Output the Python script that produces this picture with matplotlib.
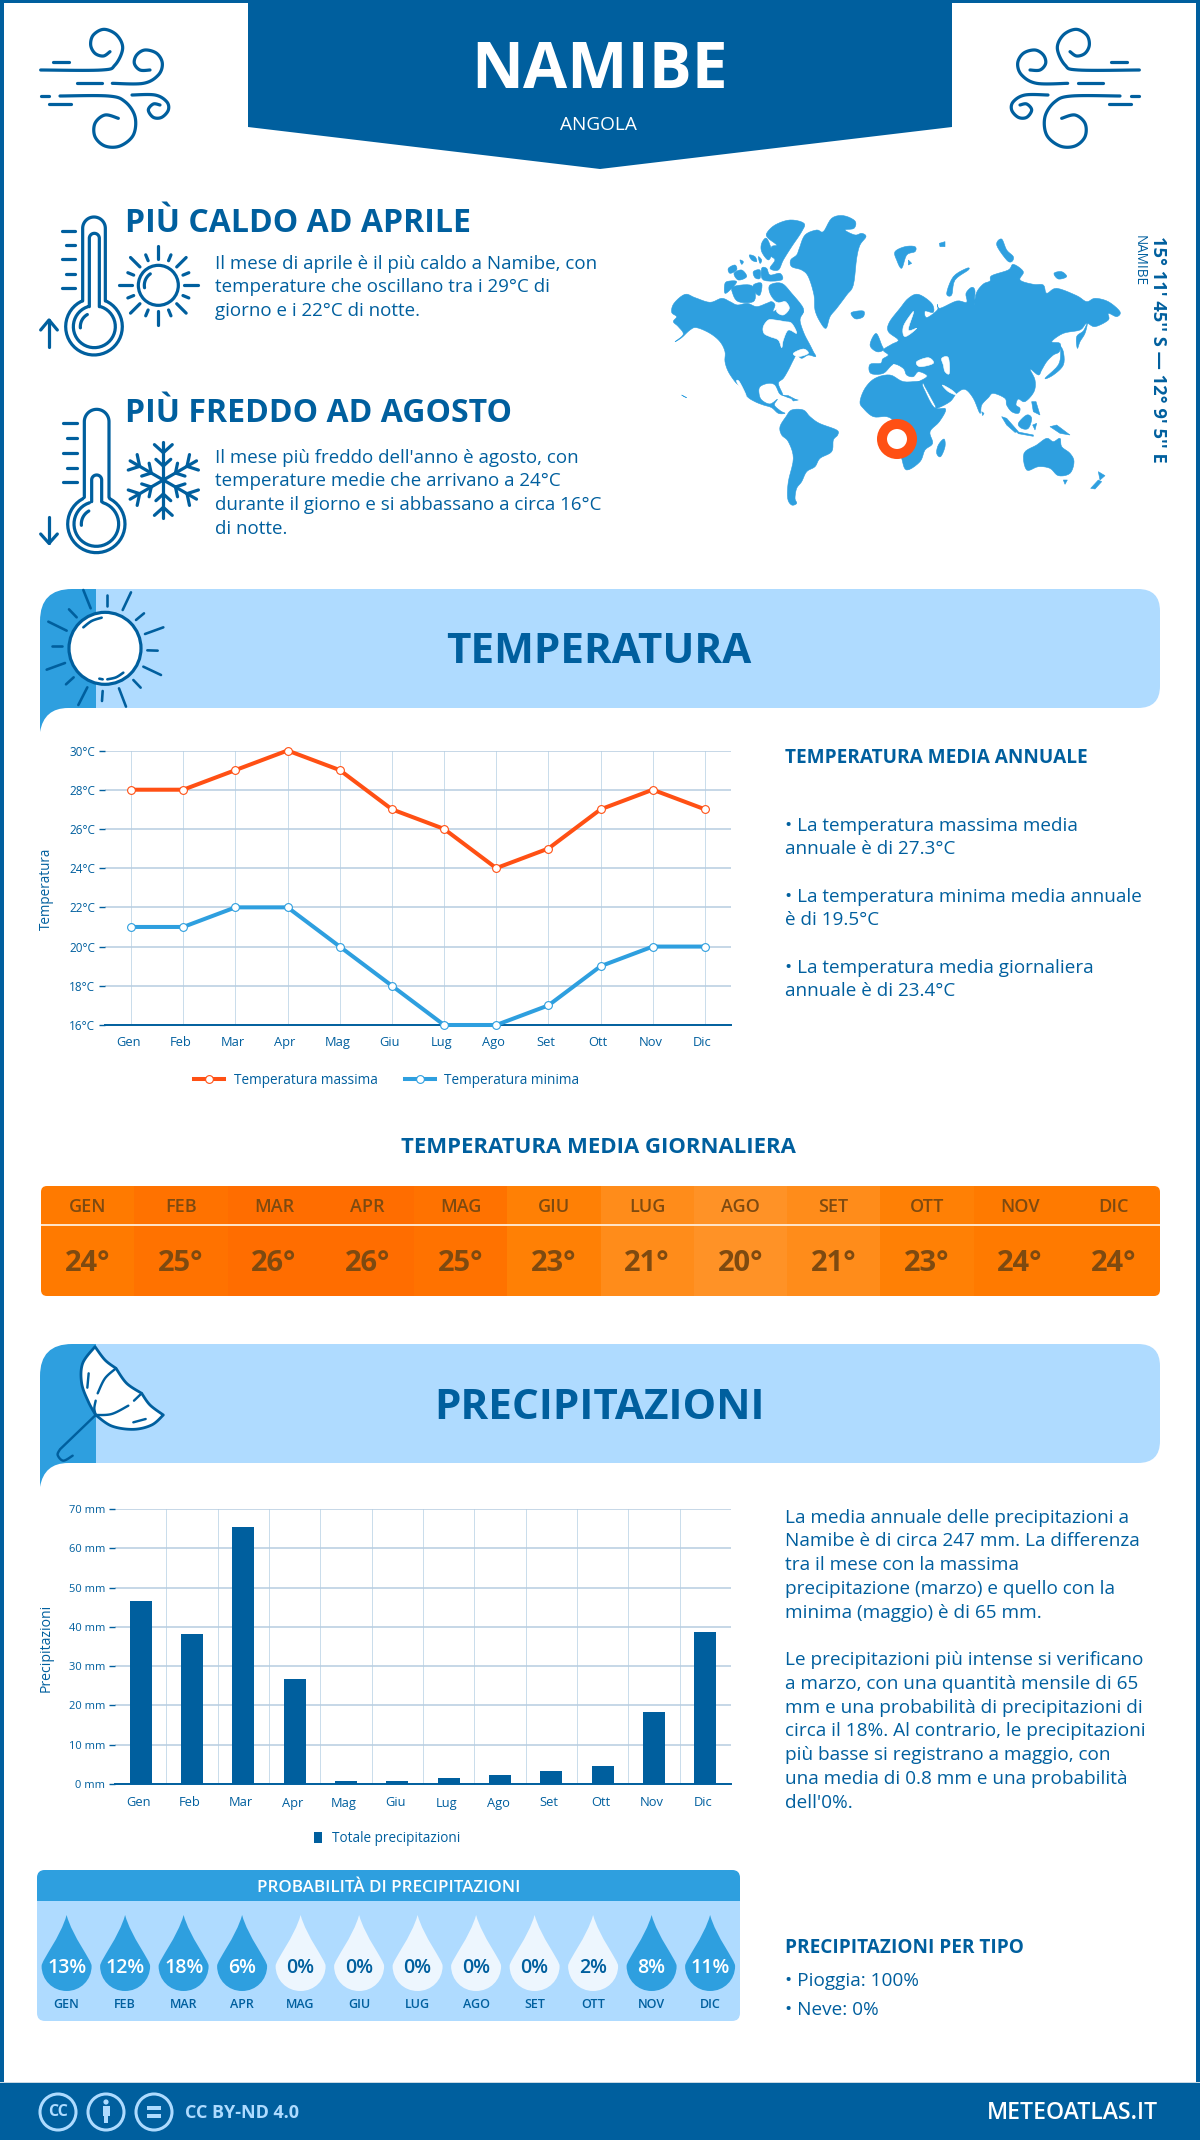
"""Namibe climate infographic, drawn on one pixel-sized canvas with two chart axes."""
import matplotlib
matplotlib.use("Agg")
import matplotlib.pyplot as plt
import numpy as np
from matplotlib.patches import Circle, FancyBboxPatch, PathPatch, Polygon, Rectangle
from matplotlib.path import Path
from matplotlib.transforms import ScaledTranslation

plt.rcParams["font.family"] = ["Open Sans", "DejaVu Sans"]

# ─── Data ────────────────────────────────────────────────────────────────
months = ["Gen", "Feb", "Mar", "Apr", "Mag", "Giu", "Lug", "Ago", "Set", "Ott", "Nov", "Dic"]
temp_max = [28, 28, 29, 30, 29, 27, 26, 24, 25, 27, 28, 27]
temp_min = [21, 21, 22, 22, 20, 18, 16, 16, 17, 19, 20, 20]
temp_avg = [24, 25, 26, 26, 25, 23, 21, 20, 21, 23, 24, 24]
rain_mm = [46.7, 38.3, 65.5, 26.8, 0.8, 0.8, 1.6, 2.4, 3.2, 4.7, 18.4, 38.8]
rain_prob = [13, 12, 18, 6, 0, 0, 0, 0, 0, 2, 8, 11]
temp_ticks = [16, 18, 20, 22, 24, 26, 28, 30]
rain_ticks = [0, 10, 20, 30, 40, 50, 60, 70]

hot_text = ["Il mese di aprile è il più caldo a Namibe, con",
            "temperature che oscillano tra i 29°C di",
            "giorno e i 22°C di notte."]
cold_text = ["Il mese più freddo dell'anno è agosto, con",
             "temperature medie che arrivano a 24°C",
             "durante il giorno e si abbassano a circa 16°C",
             "di notte."]
annual_text = [("• La temperatura massima media", 825), ("annuale è di 27.3°C", 848),
               ("• La temperatura minima media annuale", 896), ("è di 19.5°C", 919),
               ("• La temperatura media giornaliera", 967), ("annuale è di 23.4°C", 990)]
rain_text = [("La media annuale delle precipitazioni a", 1517),
             ("Namibe è di circa 247 mm. La differenza", 1540),
             ("tra il mese con la massima", 1564),
             ("precipitazione (marzo) e quello con la", 1588),
             ("minima (maggio) è di 65 mm.", 1612),
             ("Le precipitazioni più intense si verificano", 1659),
             ("a marzo, con una quantità mensile di 65", 1683),
             ("mm e una probabilità di precipitazioni di", 1707),
             ("circa il 18%. Al contrario, le precipitazioni", 1730),
             ("più basse si registrano a maggio, con", 1754),
             ("una media di 0.8 mm e una probabilità", 1778),
             ("dell'0%.", 1802)]

DARK = "#005F9E"
MID = "#2E9FDF"
LIGHT = "#AFDBFF"
PALE = "#EDF6FE"
ORANGE = "#FF5014"
FOOT = "#AEDBFF"
strip_colors = {26: "#FF6D00", 25: "#FF7200", 24: "#FF7A00", 23: "#FF8005", 21: "#FF8C1A", 20: "#FF9226"}

W, H = 1200, 2140
fig = plt.figure(figsize=(W / 100, H / 100), dpi=100)
ax = fig.add_axes([0, 0, 1, 1])
ax.set_xlim(0, W)
ax.set_ylim(H, 0)
ax.axis("off")


def px_axes(x0, y0, x1, y1):
    return fig.add_axes([x0 / W, 1 - y1 / H, (x1 - x0) / W, (y1 - y0) / H])


def text(x, y, s, size, color=DARK, weight="normal", ha="left", **kw):
    # va="center" sits a little high for capitals, push it back down
    dy = 0
    if "rotation" not in kw:
        dy = 0.09 * size - (1 if size < 25 else 0)
    ax.text(x, y + dy, s, fontsize=size * 0.72, color=color, fontweight=weight, ha=ha, va="center", **kw)


def smooth(points, n=12, closed=False):
    # Catmull-Rom through the given points
    pts = np.array(points, dtype=float)
    if closed:
        pts = np.vstack([pts[-1], pts, pts[0], pts[1]])
    else:
        pts = np.vstack([pts[0], pts, pts[-1]])
    out = []
    for i in range(1, len(pts) - 2):
        p0, p1, p2, p3 = pts[i - 1], pts[i], pts[i + 1], pts[i + 2]
        for t in np.linspace(0, 1, n, endpoint=False):
            out.append(0.5 * (2 * p1 + (p2 - p0) * t + (2 * p0 - 5 * p1 + 4 * p2 - p3) * t ** 2
                              + (3 * p1 - p0 - 3 * p2 + p3) * t ** 3))
    out.append(pts[-2])
    return np.array(out)


def stroke(points, ox, oy, lw=3.2, scale=1 / 3, color=DARK, mirror=None, zorder=5):
    pts = np.array(points, dtype=float) * scale + [ox, oy]
    if mirror is not None:
        pts[:, 0] = mirror - pts[:, 0]
    ax.plot(pts[:, 0], pts[:, 1], color=color, lw=lw * 0.72, solid_capstyle="round",
            solid_joinstyle="round", zorder=zorder)


def arc(cx, cy, r, a0, a1, n=40):
    a = np.radians(np.linspace(a0, a1, n))
    return np.column_stack([cx + r * np.cos(a), cy + r * np.sin(a)])


# ─── Frame and header ────────────────────────────────────────────────────
ax.add_patch(Rectangle((0, 0), 4, H, color=DARK, lw=0))
ax.add_patch(Rectangle((1196, 0), 4, H, color=DARK, lw=0))
ax.add_patch(Rectangle((0, 0), W, 3, color=DARK, lw=0))
ax.add_patch(Polygon([(248, 0), (952, 0), (952, 127), (600, 169), (248, 127)], color=DARK, lw=0))
text(600, 66, "NAMIBE", 64, "white", "bold", ha="center")
text(598, 124, "ANGOLA", 19, "white", ha="center")

# wind icons, left one and its mirror
wind = [
    [(32, 150), (215, 150), (255, 135), (278, 85), (260, 45), (222, 28), (190, 45), (182, 75), (195, 100), (220, 108), (240, 95)],
    [(70, 125), (118, 125)],
    [(140, 190), (215, 190)],
    [(247, 190), (340, 190), (385, 165), (397, 130), (380, 100), (345, 90), (320, 105), (313, 130), (330, 150), (360, 150)],
    [(32, 228), (58, 228)],
    [(90, 228), (235, 228), (285, 245), (315, 290), (310, 345), (270, 378), (225, 378), (195, 350), (195, 310), (225, 285), (265, 295)],
    [(56, 252), (122, 252)],
    [(306, 225), (375, 225), (410, 245), (415, 270), (395, 292), (370, 292), (355, 270), (370, 252), (390, 255)],
]
for w in wind:
    stroke(smooth(w) if len(w) > 2 else w, 30, 20)
    stroke(smooth(w) if len(w) > 2 else w, 30, 20, mirror=1180)

# ─── Hot / cold blocks ───────────────────────────────────────────────────
text(125, 221, "PIÙ CALDO AD APRILE", 32, DARK, "bold")
for s, y in zip(hot_text, [263, 286, 310]):
    text(215, y, s, 18.8)
text(125, 411, "PIÙ FREDDO AD AGOSTO", 32, DARK, "bold")
for s, y in zip(cold_text, [457, 480, 504, 528]):
    text(215, y, s, 18.8)

# thermometer, rising
ox, oy = 30, 205
stroke(np.vstack([[(158, 288)], arc(192, 70, 34, 180, 360), [(226, 288)], arc(192, 365, 85, -63, 243)]), ox, oy)
stroke(np.vstack([[(178, 305)], arc(193, 100, 15, 180, 360), [(208, 305)], arc(193, 365, 63, -72, 252)]), ox, oy)
stroke(arc(193, 365, 42, 175, 240), ox, oy)
for x0, y0 in [(97, 77), (108, 121), (97, 163), (108, 206), (97, 248)]:
    stroke([(x0, y0), (135, y0)], ox, oy)
stroke([(57, 425), (57, 345)], ox, oy)
stroke([(32, 375), (57, 345), (82, 375)], ox, oy)

# small sun
ax.add_patch(Circle((30 + 385 / 3, 205 + 241 / 3), 20, fill=False, ec=DARK, lw=2.3, zorder=5))
stroke(arc(385, 241, 42, 170, 235), ox, oy)
for ang in range(0, 360, 45):
    r0, r1 = 78, 118
    c, s = np.cos(np.radians(ang)), np.sin(np.radians(ang))
    stroke([(385 + r0 * c, 241 + r0 * s), (385 + r1 * c, 241 + r1 * s)], ox, oy)
    c, s = np.cos(np.radians(ang + 22.5)), np.sin(np.radians(ang + 22.5))
    stroke([(385 + 80 * c, 241 + 80 * s), (385 + 99 * c, 241 + 99 * s)], ox, oy)

# thermometer, falling
ox, oy = 30, 400
stroke(np.vstack([[(163, 292)], arc(200, 65, 37, 180, 360), [(237, 292)], arc(199, 372, 86, -62, 242)]), ox, oy)
stroke(np.vstack([[(185, 305)], arc(200, 240, 15, 180, 360), [(215, 305)], arc(199, 372, 67, -72, 252)]), ox, oy)
stroke(arc(199, 372, 45, 175, 240), ox, oy)
for x0, y0 in [(100, 70), (110, 115), (100, 159), (110, 203), (100, 247)]:
    stroke([(x0, y0), (140, y0)], ox, oy)
stroke([(57, 350), (57, 430)], ox, oy)
stroke([(32, 402), (57, 430), (82, 402)], ox, oy)

# snowflake
for ang in range(30, 390, 60):
    t = np.radians(ang)
    u = np.array([np.cos(t), np.sin(t)])
    c0 = np.array([400, 240])
    stroke([c0, c0 + 115 * u], ox, oy)
    for r, blen in ((42, 30), (82, 36)):
        v = c0 + r * u
        for d in (-48, 48):
            b = np.radians(ang + d)
            stroke([v, v + blen * np.array([np.cos(b), np.sin(b)])], ox, oy)

# ─── World map ───────────────────────────────────────────────────────────
west = [
    [(35, 322), (42, 295), (75, 268), (105, 278), (150, 292), (185, 280), (210, 290), (232, 300), (262, 295), (290, 305), (320, 295), (335, 290), (345, 300), (340, 320),
     (375, 295), (395, 285), (415, 305), (430, 320), (420, 345), (432, 385), (450, 420), (460, 440), (467, 455), (445, 450), (425, 460), (410, 450), (400, 465),
     (385, 495), (370, 520), (355, 535), (368, 568), (358, 565), (345, 540), (325, 535), (300, 545), (297, 565), (305, 585), (330, 597), (352, 583), (343, 600),
     (362, 618), (375, 625), (355, 625), (335, 608), (310, 600), (285, 590), (262, 575), (240, 545), (225, 530), (205, 500), (195, 470), (195, 440), (180, 410),
     (150, 385), (110, 368), (90, 375), (65, 398), (45, 410), (70, 388), (55, 365), (40, 350), (50, 335)],
    [(320, 85), (345, 60), (390, 45), (432, 55), (425, 80), (395, 125), (370, 165), (355, 195), (330, 190), (345, 165), (330, 150), (335, 125), (350, 120), (325, 100)],
    [(305, 115), (320, 100), (335, 140), (325, 165), (305, 140)],
    [(330, 240), (365, 235), (395, 265), (430, 310), (420, 330), (395, 310), (380, 290), (350, 290), (330, 265)],
    [(215, 250), (230, 230), (210, 228), (195, 235), (195, 265)],
    [(220, 245), (270, 240), (285, 260), (280, 290), (235, 290), (218, 265)],
    [(280, 240), (305, 235), (300, 270), (285, 262)],
    [(222, 205), (245, 195), (260, 215), (235, 225)],
    [(205, 190), (225, 180), (230, 195), (210, 205)],
    [(280, 200), (300, 195), (300, 220), (285, 218)],
    [(305, 190), (320, 190), (330, 210), (360, 205), (365, 225), (310, 225)],
    [(268, 150), (285, 155), (290, 170), (275, 165)],
    [(295, 155), (305, 165), (300, 175)],
    [(240, 165), (250, 170), (245, 178)],
    [(418, 130), (435, 90), (470, 75), (490, 80), (515, 40), (550, 32), (585, 48), (582, 70), (555, 75), (585, 90), (605, 85), (618, 95), (600, 120),
     (590, 160), (580, 240), (560, 270), (530, 310), (510, 335), (498, 370), (480, 350), (465, 315), (462, 270), (445, 215), (425, 195), (395, 185), (392, 165), (410, 150)],
    [(575, 322), (610, 318), (610, 335), (590, 342), (578, 335)],
    [(360, 665), (378, 635), (395, 615), (430, 615), (450, 635), (478, 655), (530, 675), (533, 690), (520, 705), (515, 740), (480, 760), (465, 785),
     (440, 800), (425, 830), (410, 850), (405, 880), (410, 895), (395, 900), (383, 880), (385, 830), (400, 760), (385, 710), (365, 690)],
    [(600, 590), (615, 550), (645, 520), (690, 510), (730, 530), (782, 530), (790, 548), (822, 607), (857, 612), (838, 650), (810, 680), (818, 715),
     (795, 735), (780, 770), (740, 795), (725, 760), (712, 700), (700, 650), (680, 635), (640, 635), (610, 610)],
    [(830, 745), (835, 720), (852, 702), (855, 725), (842, 755)],
]
west_small = [
    [(365, 570), (385, 572), (410, 585), (385, 578)],
    [(65, 570), (80, 578), (72, 575)],
    [(395, 582), (415, 585), (400, 588)],
]
west_holes = [
    [(310, 365), (325, 345), (345, 345), (375, 350), (395, 355), (410, 385), (385, 375), (370, 405), (365, 428), (355, 405), (330, 395), (312, 385)],
    [(355, 300), (375, 290), (388, 310), (370, 330), (350, 320)],
    [(400, 445), (430, 432), (445, 445), (415, 455)],
    [(230, 530), (238, 530), (258, 570), (250, 566)],
]
east = [
    [(62, 505), (60, 478), (92, 475), (98, 462), (115, 450), (100, 435), (125, 418), (145, 405), (115, 380), (118, 352), (150, 310), (175, 280), (205, 268), (245, 295), (250, 322), (225, 318),
     (230, 338), (262, 315), (262, 298), (270, 310), (320, 288), (350, 292), (348, 265), (365, 247), (375, 258), (372, 300), (380, 262), (400, 237), (420, 228), (425, 212), (475, 195), (490, 178),
     (520, 200), (510, 225), (550, 238), (580, 240), (590, 265), (620, 250), (680, 272), (710, 290), (735, 280), (775, 290), (810, 320), (800, 335), (775, 325), (775, 345), (735, 365), (710, 355),
     (690, 375), (640, 385), (605, 410), (630, 415), (628, 440), (610, 450), (590, 470), (575, 495), (565, 510), (540, 492), (555, 525), (552, 560), (525, 590), (505, 582), (498, 600), (510, 610),
     (505, 625), (485, 620), (470, 600), (465, 580), (430, 565), (415, 578), (395, 600), (390, 625), (370, 580), (345, 553), (320, 565), (300, 590), (260, 610), (255, 600), (225, 545), (218, 535),
     (190, 538), (225, 520), (230, 510), (205, 500), (190, 515), (170, 510), (160, 490), (130, 478), (100, 505)],
    [(60, 420), (78, 385), (95, 420), (100, 435), (80, 440)],
    [(135, 140), (165, 125), (195, 125), (195, 140), (170, 150), (155, 190), (140, 165)],
    [(290, 265), (310, 215), (350, 190), (355, 195), (315, 225), (305, 270)],
    [(440, 120), (455, 102), (470, 135), (490, 155), (485, 170), (470, 165)],
    [(612, 205), (635, 200), (650, 215), (625, 222)],
    [(585, 520), (625, 480), (632, 440), (628, 420), (640, 440), (640, 480), (610, 510)],
    [(682, 430), (680, 395), (700, 378), (712, 355), (705, 385), (690, 410)],
    [(505, 655), (530, 630), (545, 640), (535, 670), (515, 670)],
    [(522, 745), (560, 720), (590, 700), (610, 710), (630, 700), (635, 725), (660, 745), (672, 770), (660, 805), (625, 812), (600, 790), (565, 785), (530, 795)],
]
east_small = [
    [(175, 165), (185, 175), (175, 180)],
    [(268, 115), (285, 110), (285, 125), (270, 125)],
    [(455, 635), (470, 640), (505, 680), (495, 682), (470, 660)],
    [(500, 680), (550, 690), (550, 694), (505, 686)],
    [(548, 660), (560, 655), (555, 675)],
    [(545, 590), (558, 590), (570, 630), (550, 620)],
    [(600, 665), (620, 660), (660, 690), (630, 685)],
    [(395, 620), (402, 625), (398, 632)],
    [(640, 825), (652, 825), (645, 838)],
    [(722, 850), (745, 825), (755, 830), (735, 852)],
    [(745, 800), (765, 812), (750, 825)],
]
east_holes = [
    [(185, 325), (160, 365), (165, 395), (200, 370), (175, 375), (190, 325)],
    [(200, 470), (235, 458), (250, 475), (210, 485)],
    [(275, 460), (295, 458), (298, 505), (285, 500), (280, 480)],
    [(277, 540), (295, 560), (320, 570), (305, 555)],
    [(130, 478), (150, 490), (135, 498)],
]


def land(polys, ox, color, round_it=True):
    for p in polys:
        pts = smooth(p, n=5, closed=True) if round_it else np.array(p, dtype=float)
        ax.add_patch(Polygon(pts / 3 + [ox, 205], closed=True, color=color, lw=0.4, zorder=2))


land(west, 660, MID)
land(east, 850, MID)
land(west_small, 660, MID, round_it=False)
land(east_small, 850, MID, round_it=False)
land(west_holes, 660, "white")
land(east_holes, 850, "white")
ax.add_patch(Circle((897, 439), 15, fc="white", ec=ORANGE, lw=10 * 0.72, zorder=4))
text(1158, 349, "15° 11' 45'' S — 12° 9' 5'' E", 18.3, DARK, "bold", ha="center", rotation=-90)
text(1139, 261, "NAMIBE", 13.5, DARK, ha="center", rotation=-90)


# ─── Section banners ─────────────────────────────────────────────────────
def banner(top, title, title_dy):
    bot = top + 119
    ax.add_patch(FancyBboxPatch((70, top), 1090, 119, boxstyle="round,pad=0,rounding_size=22", fc=LIGHT, ec="none", zorder=1))
    verts = [(40, top + 32), (40, top), (72, top), (96, top), (96, bot), (68, bot), (44, bot), (40, bot + 24), (40, top + 32)]
    codes = [Path.MOVETO, Path.CURVE3, Path.CURVE3, Path.LINETO, Path.LINETO, Path.LINETO, Path.CURVE3, Path.CURVE3, Path.CLOSEPOLY]
    ax.add_patch(PathPatch(Path(verts, codes), fc=MID, ec="none", zorder=1.5))
    text(599, top + title_dy, title, 42.3, DARK, "bold", ha="center")


banner(589, "TEMPERATURA", 60)
banner(1344, "PRECIPITAZIONI", 61)

# big sun on the first banner
ox, oy = 30, 585
ax.add_patch(Circle((30 + 225 / 3, 585 + 190 / 3), 36, fc="white", ec=DARK, lw=2.3, zorder=4))
sun_rays = [[(160, 15), (182, 70)], [(230, 30), (230, 63)], [(303, 22), (278, 75)], [(342, 85), (318, 105)],
            [(400, 127), (345, 147)], [(352, 196), (383, 197)], [(340, 245), (393, 270)], [(310, 285), (332, 308)],
            [(267, 310), (288, 365)], [(218, 318), (216, 348)], [(172, 307), (145, 360)], [(131, 277), (108, 298)],
            [(105, 234), (50, 254)], [(97, 184), (65, 184)], [(110, 137), (55, 110)], [(140, 97), (117, 73)]]
for r in sun_rays:
    stroke(r, ox, oy, lw=2.6)
stroke(smooth([(160, 127), (185, 108), (215, 98)]), ox, oy, lw=2.6)
stroke(smooth([(232, 283), (258, 277), (280, 263)]), ox, oy, lw=2.6)
stroke([(208, 281), (218, 283)], ox, oy, lw=2.6)

# umbrella on the second banner
ox, oy = 30, 1340
canopy = np.vstack([smooth([(195, 20), (158, 70), (155, 130), (175, 185), (197, 225)]),
                    smooth([(197, 225), (245, 258), (310, 268), (365, 255), (400, 225)]),
                    smooth([(400, 225), (360, 195), (335, 160)]),
                    smooth([(335, 160), (290, 130), (258, 85)]),
                    smooth([(258, 85), (225, 60), (195, 20)])])
ax.add_patch(Polygon(canopy / 3 + [ox, oy], closed=True, fc="white", ec=DARK, lw=2.0, zorder=4, joinstyle="round"))
stroke(smooth([(258, 85), (225, 115), (203, 160)]), ox, oy, lw=2.4)
stroke([(176, 100), (172, 143)], ox, oy, lw=2.4)
stroke(smooth([(197, 182), (193, 205), (197, 225)]), ox, oy, lw=2.4)
stroke(smooth([(197, 225), (245, 222), (295, 197)]), ox, oy, lw=2.4)
stroke([(312, 182), (335, 160)], ox, oy, lw=2.4)
stroke([(310, 247), (347, 237)], ox, oy, lw=2.4)
stroke(np.vstack([[(197, 225)], smooth([(90, 328), (83, 345), (100, 362), (128, 347)])]), ox, oy, lw=2.4)


def nudge_labels(chart, dx):
    # month labels sit slightly left of their gridline
    for lab in chart.get_xticklabels():
        lab.set_transform(lab.get_transform() + ScaledTranslation(dx / 100, 0, fig.dpi_scale_trans))


# ─── Temperature chart ───────────────────────────────────────────────────
GRID = "#B7CDE0"
tc = px_axes(105, 750.5, 731, 1025)
x = np.arange(12)
tc.set_xlim(-0.5, 11.5)
tc.set_ylim(16, 30)
tc.set_yticks(temp_ticks)
tc.set_yticklabels([f"{t}°C" for t in temp_ticks])
tc.set_xticks(x)
tc.set_xticklabels(months)
tc.tick_params(axis="y", length=4, width=1, color=DARK, labelcolor=DARK, labelsize=8.5, pad=3)
tc.tick_params(axis="x", length=0, labelcolor=DARK, labelsize=9.3, pad=8)
tc.grid(axis="y", color=GRID, lw=1.1)
tc.grid(axis="x", color="#C9DCEB", lw=0.7)
tc.set_axisbelow(True)
for side in ("top", "right", "left"):
    tc.spines[side].set_visible(False)
tc.spines["bottom"].set_color(DARK)
tc.spines["bottom"].set_linewidth(1.4)
nudge_labels(tc, -2.5)
line_max, = tc.plot(x, temp_max, color=ORANGE, lw=2.9, marker="o", ms=5.6, mfc="white", mec=ORANGE, mew=0.8, clip_on=False, label="Temperatura massima", zorder=5)
line_min, = tc.plot(x, temp_min, color=MID, lw=2.9, marker="o", ms=5.6, mfc="white", mec=MID, mew=0.8, clip_on=False, label="Temperatura minima", zorder=5)
text(46, 889, "Temperatura", 13.5, DARK, ha="center", rotation=90)
tc.legend(handles=[line_max, line_min], loc="center", bbox_to_anchor=(387, 1080), bbox_transform=ax.transData, ncol=2,
          frameon=False, fontsize=9.8, labelcolor=DARK, handlelength=2.2, columnspacing=2.0, handletextpad=0.7, numpoints=1)

text(785, 757, "TEMPERATURA MEDIA ANNUALE", 19, DARK, "bold")
for s, y in annual_text:
    text(785, y, s, 18.9)

# ─── Daily mean strip ────────────────────────────────────────────────────
text(598, 1147, "TEMPERATURA MEDIA GIORNALIERA", 22.2, DARK, "bold", ha="center")
sc = px_axes(41, 1186, 1160, 1296)
sc.set_xlim(0, 12)
sc.set_ylim(0, 1)
sc.axis("off")
clip = FancyBboxPatch((41, 1186), 1119, 110, boxstyle="round,pad=0,rounding_size=6", transform=ax.transData, fc="none", ec="none")
fig.add_artist(clip)
cells = sc.bar(x + 0.5, [1] * 12, width=1.0, bottom=0, color=[strip_colors[t] for t in temp_avg], lw=0)
for c in cells:
    c.set_clip_path(clip)
sc.axhline(0.645, color="#FFE6CC", lw=1.4)
brown = "#7E4A10"
for i, t in enumerate(temp_avg):
    sc.text(i + 0.5, 0.81, months[i].upper(), ha="center", va="center", fontsize=13, color=brown, fontweight="semibold")
    sc.text(i + 0.5, 0.295, f"{t}°", ha="center", va="center", fontsize=21, color=brown, fontweight="bold")

# ─── Rain chart ──────────────────────────────────────────────────────────
rc = px_axes(115, 1509, 731, 1784)
rc.set_xlim(-0.5, 11.5)
rc.set_ylim(0, 70)
rc.set_yticks(rain_ticks)
rc.set_yticklabels([f"{t} mm" for t in rain_ticks])
rc.set_xticks(x)
rc.set_xticklabels(months)
rc.set_xticks(x[:-1] + 0.5, minor=True)
rc.tick_params(axis="y", length=4, width=1, color=DARK, labelcolor=DARK, labelsize=8, pad=3)
rc.tick_params(axis="x", which="major", length=0, labelcolor=DARK, labelsize=9.3, pad=9)
rc.tick_params(axis="x", which="minor", length=0)
rc.grid(axis="y", color=GRID, lw=1.1)
rc.grid(axis="x", which="minor", color="#C9DCEB", lw=0.7)
rc.set_axisbelow(True)
for side in ("top", "right", "left"):
    rc.spines[side].set_visible(False)
rc.spines["bottom"].set_color(DARK)
rc.spines["bottom"].set_linewidth(1.4)
nudge_labels(rc, -2)
bars = rc.bar(x, rain_mm, width=0.43, color=DARK, label="Totale precipitazioni")
text(46, 1648, "Precipitazioni", 14, DARK, ha="center", rotation=90)
rc.legend(handles=[bars], loc="center", bbox_to_anchor=(387, 1839), bbox_transform=ax.transData, frameon=False,
          fontsize=9.8, labelcolor=DARK, handlelength=0.6, handleheight=0.9, handletextpad=0.7)

for s, y in rain_text:
    text(785, y, s, 19)

# ─── Rain probability panel ──────────────────────────────────────────────
ax.add_patch(FancyBboxPatch((37, 1870), 703, 151, boxstyle="round,pad=0,rounding_size=8", fc=LIGHT, ec="none", zorder=1))
top_clip = Rectangle((37, 1870), 703, 31, transform=ax.transData)
head = FancyBboxPatch((37, 1870), 703, 60, boxstyle="round,pad=0,rounding_size=8", fc=MID, ec="none", zorder=1.2)
ax.add_patch(head)
head.set_clip_path(top_clip)
text(389, 1887, "PROBABILITÀ DI PRECIPITAZIONI", 17, "white", "semibold", ha="center")


def drop(cx, color):
    top, bot, hw = 1915, 1991, 25
    verts = [(cx, top), (cx + 6, top + 22), (cx + hw, top + 45), (cx + hw, bot - 25),
             (cx + hw, bot - 11), (cx + 14, bot), (cx, bot),
             (cx - 14, bot), (cx - hw, bot - 11), (cx - hw, bot - 25),
             (cx - hw, top + 45), (cx - 6, top + 22), (cx, top)]
    codes = [Path.MOVETO] + [Path.CURVE4] * 12
    ax.add_patch(PathPatch(Path(verts, codes), fc=color, ec="none", zorder=2))


for i, p in enumerate(rain_prob):
    cx = 66.6 + i * 58.5
    wet = p >= 5
    drop(cx, MID if wet else PALE)
    text(cx, 1967, f"{p}%", 19.5, "white" if wet else DARK, "semibold", ha="center")
    text(cx, 2004, months[i].upper(), 12.5, DARK, "semibold", ha="center")

text(785, 1947, "PRECIPITAZIONI PER TIPO", 19, DARK, "bold")
text(785, 1980, "• Pioggia: 100%", 19)
text(785, 2009, "• Neve: 0%", 19)

# ─── Footer ──────────────────────────────────────────────────────────────
ax.add_patch(Rectangle((0, 2083), W, 57, color=DARK, lw=0, zorder=1))
ax.add_patch(Rectangle((0, 2082), W, 1.2, color="#C8D8E4", lw=0, zorder=1))
for cx in (58, 106, 154):
    ax.add_patch(Circle((cx, 2112), 18, fill=False, ec=FOOT, lw=2.2, zorder=3))
text(58, 2112, "CC", 16, FOOT, "bold", ha="center", zorder=4)
ax.add_patch(Circle((106, 2102), 2.6, color=FOOT, lw=0, zorder=4))
ax.add_patch(Rectangle((102.5, 2106), 7, 10, color=FOOT, lw=0, zorder=4))
ax.add_patch(Rectangle((104, 2115), 4, 8, color=FOOT, lw=0, zorder=4))
ax.add_patch(Rectangle((147, 2106), 14, 4, color=FOOT, lw=0, zorder=4))
ax.add_patch(Rectangle((147, 2114), 14, 4, color=FOOT, lw=0, zorder=4))
text(185, 2112, "CC BY-ND 4.0", 18, FOOT, "bold", zorder=4)
text(1158, 2112, "METEOATLAS.IT", 23, "white", "semibold", ha="right", zorder=4)

fig.savefig("out.png", dpi=100)
